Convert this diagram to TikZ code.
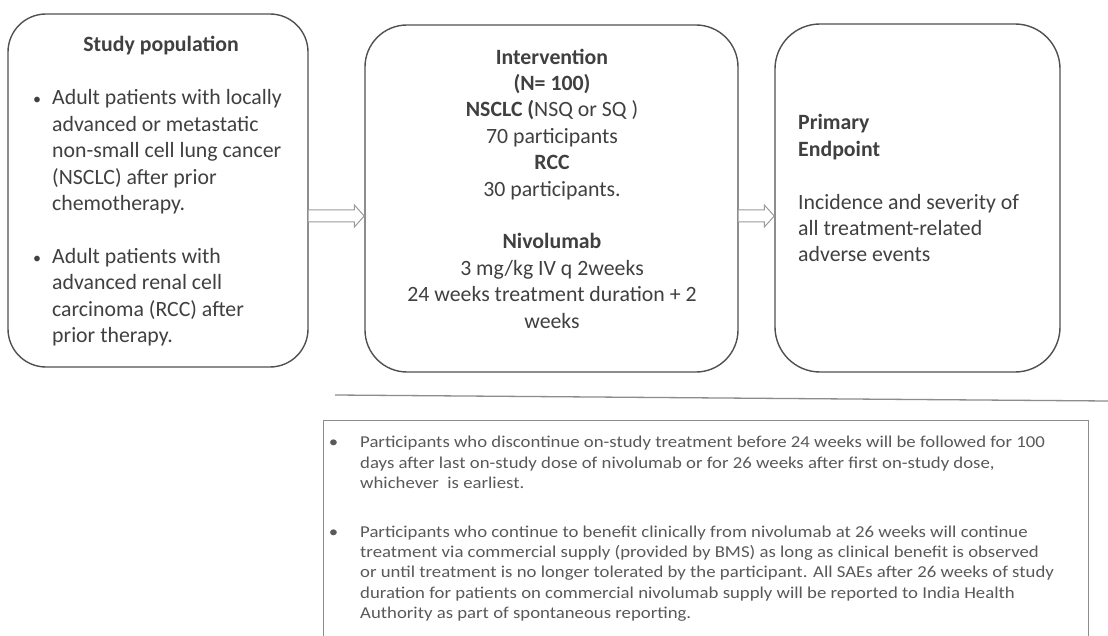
\documentclass[tikz,border=0pt]{standalone}
\usepackage{fontspec}
\setmainfont{Carlito}
\newfontfamily\notefont[FakeStretch=1.13]{Carlito}
\usetikzlibrary{calc}
\definecolor{txtgray}{HTML}{404040}
\definecolor{boxgray}{HTML}{505050}
\definecolor{arrgray}{HTML}{9A9A9A}
\definecolor{linegray}{HTML}{8C8C8C}
\definecolor{notegray}{HTML}{595959}
\newcommand{\smallbul}{{\fontsize{16pt}{16pt}\selectfont •}}
\begin{document}
\begin{tikzpicture}[x=1pt,y=-1pt,
  box/.style={draw=boxgray, line width=1.4pt, rounded corners=#1, inner sep=0pt},
  txt/.style={inner sep=0pt, text=txtgray, font=\fontsize{21.8pt}{26.4pt}\selectfont},
  note/.style={inner sep=0pt, text=notegray, align=left, font=\notefont\fontsize{16.6pt}{20.4pt}\selectfont},
  hollowarr/.style={draw=arrgray, line width=1pt, fill=white},
  sepline/.style={draw=linegray, line width=1.3pt}]
\clip (0,0) rectangle (1108,636);
\fill[white] (0,0) rectangle (1108,636);
% boxes
\node[box=38pt, minimum width=300pt, minimum height=353pt] (pop) at (158,190.5) {};
\node[box=42pt, minimum width=373pt, minimum height=347pt] (int) at (551.5,198.5) {};
\node[box=45pt, minimum width=285pt, minimum height=348pt] (end) at (917.5,198) {};
\node[draw=linegray, line width=1pt, minimum width=765pt, minimum height=240pt, inner sep=0pt, anchor=north west] (notes) at (323,420) {};
% arrows
\draw[hollowarr] (pop.east |- 0,210) -- ($(int.west |- 0,210)+(-10,0)$) -- ($(int.west |- 0,205)+(-10,0)$) -- (int.west |- 0,216) -- ($(int.west |- 0,227)+(-10,0)$) -- ($(int.west |- 0,222)+(-10,0)$) -- (pop.east |- 0,222);
\draw[hollowarr] (int.east |- 0,210) -- ($(end.west |- 0,210)+(-10,0)$) -- ($(end.west |- 0,205)+(-10,0)$) -- (end.west |- 0,216) -- ($(end.west |- 0,227)+(-10,0)$) -- ($(end.west |- 0,222)+(-10,0)$) -- (int.east |- 0,222);
% separator
\draw[sepline] (335,395) -- (1108,401);
% texts (base anchor = baseline of the last line)
\node[txt, font=\fontsize{21.8pt}{26.4pt}\selectfont\bfseries, anchor=base] (poptitle) at (161,52) {Study population};
\node[txt, align=left, anchor=base west] (poplist) at (52,342.5) {\llap{\smallbul\hspace{11pt}}Adult patients with locally\\advanced or metastatic\\non-small cell lung cancer\\(NSCLC) after prior\\chemotherapy.\\[26.4pt]\llap{\smallbul\hspace{11pt}}Adult patients with\\advanced renal cell\\carcinoma (RCC) after\\prior therapy.};
\node[txt, align=center, anchor=base] (inttext) at (552,328) {\textbf{Intervention}\\\textbf{(N= 100)}\\\textbf{NSCLC (}NSQ or SQ )\\70 participants\\\textbf{RCC}\\30 participants.\\[26.4pt]\textbf{Nivolumab}\\3 mg/kg IV q 2weeks\\24 weeks treatment duration + 2\\weeks};
\node[txt, align=left, anchor=base west] (endtext) at (798,262) {\textbf{Primary}\\\textbf{Endpoint}\\[26.4pt]Incidence and severity of\\all treatment-related\\adverse events};
\node[note, anchor=base west] (n1) at (360,488.5) {\llap{•\hspace{22pt}}Participants who discontinue on-study treatment before 24 weeks will be followed for 100\\days after last on-study dose of nivolumab or for 26 weeks after first on-study dose,\\whichever\ \ is earliest.};
\node[note, anchor=base west] (n2) at (360,618.6) {\llap{•\hspace{22pt}}Participants who continue to benefit clinically from nivolumab at 26 weeks will continue\\treatment via commercial supply (provided by BMS) as long as clinical benefit is observed\\or until treatment is no longer tolerated by the participant. All SAEs after 26 weeks of study\\duration for patients on commercial nivolumab supply will be reported to India Health\\Authority as part of spontaneous reporting.};
\end{tikzpicture}
\end{document}
